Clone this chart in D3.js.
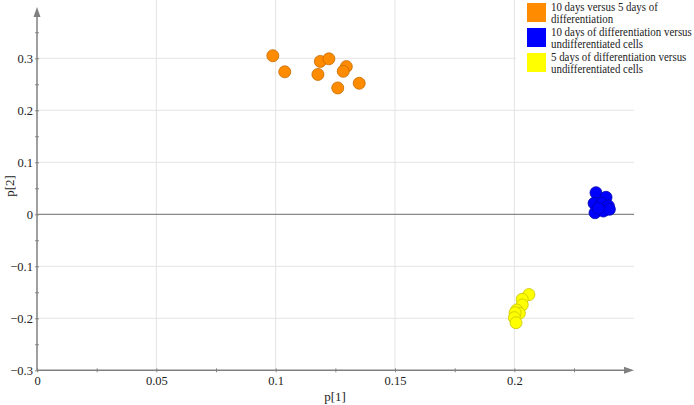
<!DOCTYPE html>
<html>
<head>
<meta charset="utf-8">
<script src="https://cdn.jsdelivr.net/npm/d3@7"></script>
<style>
  body { margin: 0; background: #fff; }
</style>
</head>
<body>
<svg id="chart" width="694" height="405"></svg>
<script>
// series: [p1, p2]
var orangePts = [[0.0988, 0.305], [0.1038, 0.274], [0.1187, 0.294], [0.1223, 0.299], [0.1177, 0.269],
                 [0.1296, 0.284], [0.1283, 0.275], [0.1260, 0.243], [0.1350, 0.252]];
var bluePts = [[0.2342, 0.0415], [0.2384, 0.0327], [0.2334, 0.0212], [0.2366, 0.0212], [0.2394, 0.016],
               [0.2338, 0.003], [0.2373, 0.0063], [0.2398, 0.0096], [0.2352, 0.0115]];
var yellowPts = [[0.2061, -0.1544], [0.2033, -0.1635], [0.2033, -0.1744], [0.2010, -0.1840], [0.2021, -0.1904],
                 [0.2003, -0.1892], [0.2000, -0.1988], [0.2007, -0.2085]];
var seriesNames = ["10 days versus 5 days of|differentiation",
                   "10 days of differentiation versus|undifferentiated cells",
                   "5 days of differentiation versus|undifferentiated cells"];
var xTicks = [0, 0.05, 0.1, 0.15, 0.2];
var yTicks = [-0.3, -0.2, -0.1, 0, 0.1, 0.2, 0.3];

var FONT = "'Liberation Serif', 'DejaVu Serif', serif";

var series = [
  {name: seriesNames[0], pts: orangePts, fill: "#ff8c00", stroke: "#c46a00"},
  {name: seriesNames[1], pts: bluePts, fill: "#0000ff", stroke: "#0000b0"},
  {name: seriesNames[2], pts: yellowPts, fill: "#ffff00", stroke: "#c8c400"}
];

var svg = d3.select("#chart");
var x = d3.scaleLinear().domain([0, 0.25]).range([37, 633.7]);
var y = d3.scaleLinear().domain([-0.3, 0.3]).range([370.3, 58.3]);
var yTop = 7, xEnd = 634;

// gridlines
var grid = svg.append("g");
grid.selectAll(".vg").data(xTicks.slice(1)).enter().append("line")
    .attr("x1", function(d) {return x(d);}).attr("x2", function(d) {return x(d);})
    .attr("y1", 0).attr("y2", y(-0.3))
    .attr("stroke", "#e4e4e4").attr("stroke-width", 1);
grid.selectAll(".hg").data(yTicks.filter(function(d) {return d != -0.3 && d != 0;})).enter().append("line")
    .attr("x1", x(0)).attr("x2", xEnd)
    .attr("y1", function(d) {return y(d);}).attr("y2", function(d) {return y(d);})
    .attr("stroke", "#e4e4e4").attr("stroke-width", 1);

// zero line
svg.append("line").attr("x1", x(0)).attr("x2", xEnd).attr("y1", y(0)).attr("y2", y(0))
   .attr("stroke", "#888").attr("stroke-width", 1.3);

// axes
var xAxis = d3.axisBottom(x).tickValues(d3.range(0, 0.2376, 0.025)).tickSize(3)
              .tickFormat(function(d) {
                var r = Math.round(d * 1000) / 1000;
                return xTicks.indexOf(r) >= 0 ? d3.format("")(r) : "";
              });
var gx = svg.append("g").attr("transform", "translate(0," + y(-0.3) + ")").call(xAxis)
            .attr("font-family", FONT);
gx.select(".domain").remove();
gx.selectAll(".tick line").attr("stroke", "#888").attr("y1", -2).attr("y2", 2);
gx.selectAll("text").attr("font-size", 12.5).attr("fill", "#222").attr("dy", "0.9em").attr("y", 3);

var yAxis = d3.axisLeft(y).tickValues(d3.range(-0.3, 0.3751, 0.05)).tickSize(3)
              .tickFormat(function(d) {
                var r = Math.round(d * 100) / 100;
                return yTicks.indexOf(r) >= 0 ? d3.format("")(r) : "";
              });
var gy = svg.append("g").attr("transform", "translate(" + x(0) + ",0)").call(yAxis)
            .attr("font-family", FONT);
gy.select(".domain").remove();
gy.selectAll(".tick line").attr("stroke", "#888").attr("x1", -2).attr("x2", 2);
gy.selectAll("text").attr("font-size", 12.5).attr("fill", "#222").attr("x", -4);

// axis lines with arrows
svg.append("line").attr("x1", x(0)).attr("x2", xEnd - 8).attr("y1", y(-0.3)).attr("y2", y(-0.3))
   .attr("stroke", "#808080").attr("stroke-width", 1.5);
svg.append("path").attr("d", "M" + xEnd + "," + y(-0.3) + "l-10,-3.5v7z").attr("fill", "#808080");
svg.append("line").attr("x1", x(0)).attr("x2", x(0)).attr("y1", y(-0.3)).attr("y2", yTop + 8)
   .attr("stroke", "#808080").attr("stroke-width", 1.5);
svg.append("path").attr("d", "M" + x(0) + "," + yTop + "l-3.5,10h7z").attr("fill", "#808080");

// axis titles
svg.append("text").attr("x", 335).attr("y", 401).attr("text-anchor", "middle")
   .attr("font-family", FONT).attr("font-size", 13).attr("fill", "#222").text("p[1]");
svg.append("text").attr("transform", "translate(14,186) rotate(-90)").attr("text-anchor", "middle")
   .attr("font-family", FONT).attr("font-size", 13).attr("fill", "#222").text("p[2]");

// points
series.forEach(function(s) {
  svg.append("g").selectAll("circle").data(s.pts).enter().append("circle")
     .attr("cx", function(d) {return x(d[0]);})
     .attr("cy", function(d) {return y(d[1]);})
     .attr("r", 6)
     .attr("fill", s.fill).attr("stroke", s.stroke).attr("stroke-width", 0.8);
});

// legend
var lg = svg.append("g").attr("font-family", FONT);
lg.append("rect").attr("x", 516).attr("y", 0).attr("width", 178).attr("height", 78).attr("fill", "#fff");
// the reference legend face is narrow: squeeze the text horizontally so the widest line fits
var lgFont = 12;
var probe = lg.append("text").attr("font-size", lgFont).text("10 days of differentiation versus");
var squeeze = Math.min(1, 141 / probe.node().getComputedTextLength());
probe.remove();
series.forEach(function(s, i) {
  var top = 3 + i * 25;
  lg.append("rect").attr("x", 527).attr("y", top).attr("width", 19).attr("height", 19).attr("fill", s.fill);
  s.name.split("|").forEach(function(line, j) {
    lg.append("text")
      .attr("transform", "translate(551," + (top + 7.5 + j * 12.5) + ") scale(" + squeeze + ",1)")
      .attr("font-size", lgFont).attr("fill", "#222").text(line);
  });
});
</script>
</body>
</html>
